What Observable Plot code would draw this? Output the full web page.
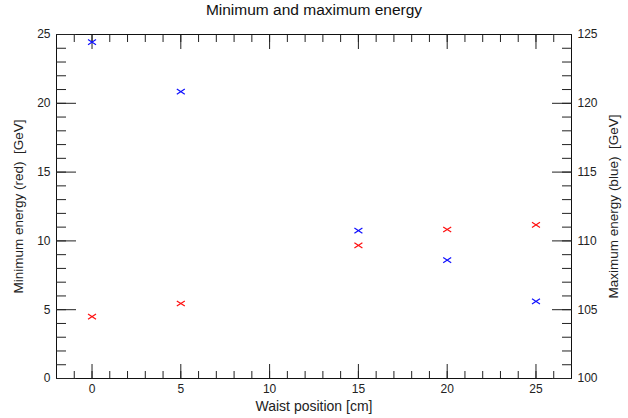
<!DOCTYPE html>
<html>
<head>
<meta charset="utf-8">
<script src="https://cdn.jsdelivr.net/npm/d3@7"></script>
<script src="https://cdn.jsdelivr.net/npm/@observablehq/plot@0.6"></script>
<style>
  body { margin: 0; background: #fff; font-family: "Liberation Sans", Arial, sans-serif; }
  #title { width: 628px; height: 22px; line-height: 20px; text-align: center; font-size: 15.5px; color: #111; }
  #chart g[aria-label="x-axis label"] text { font-size: 14px; }
  #chart g[aria-label="y-axis label"] text { font-size: 13.5px; }
</style>
</head>
<body>
<div id="title">Minimum and maximum energy</div>
<div id="chart"></div>
<script>
// Waist position scan: minimum (red, left axis) and maximum (blue, right axis) energy
const waist = [0, 5, 15, 20, 25];
const minEnergy = [4.5, 5.45, 9.67, 10.83, 11.17];
const maxEnergy = [124.45, 120.85, 110.75, 108.6, 105.6];

// Axis ranges and ticks
const xDomain = [-2, 27];
const leftDomain = [0, 25];
const rightBase = 100; // right axis spans 100–125 over the same height
const xMajor = [0, 5, 10, 15, 20, 25];
const xMinor = d3.range(-1, 27, 1);
const yMajor = [0, 5, 10, 15, 20, 25];
const yMinor = d3.range(1, 25, 1);

const points = waist.map((w, i) => ({w, min: minEnergy[i], max: maxEnergy[i]}));

// flattened "x" marker
const flatCross = {
  draw(ctx) {
    const w = 4, h = 2.6;
    ctx.moveTo(-w, -h); ctx.lineTo(w, h);
    ctx.moveTo(-w, h); ctx.lineTo(w, -h);
  }
};

const blank = () => "";

const chart = Plot.plot({
  width: 628,
  height: 396,
  marginLeft: 56,
  marginRight: 57,
  marginTop: 12,
  marginBottom: 40,
  style: {fontFamily: "Liberation Sans, Arial, sans-serif", fontSize: "12px", color: "#222", background: "#fff"},
  x: {domain: xDomain},
  y: {domain: leftDomain},
  marks: [
    Plot.frame({stroke: "#111"}),
    // bottom
    Plot.axisX(xMinor, {anchor: "bottom", tickSize: -7, tickFormat: blank, label: null}),
    Plot.axisX(xMajor, {anchor: "bottom", tickSize: -14, tickPadding: 20, label: "Waist position [cm]", labelAnchor: "center", labelArrow: "none", labelOffset: 32}),
    // top
    Plot.axisX(xMinor, {anchor: "top", tickSize: -7, tickFormat: blank, label: null}),
    Plot.axisX(xMajor, {anchor: "top", tickSize: -14, tickFormat: blank, label: null}),
    // left
    Plot.axisY(yMinor, {anchor: "left", tickSize: -10, tickFormat: blank, label: null}),
    Plot.axisY(yMajor, {anchor: "left", tickSize: -20, tickPadding: 26, label: "Minimum energy (red)  [GeV]", labelAnchor: "center", labelArrow: "none", labelOffset: 43}),
    // right (offset by 100)
    Plot.axisY(yMinor, {anchor: "right", tickSize: -10, tickFormat: blank, label: null}),
    Plot.axisY(yMajor, {anchor: "right", tickSize: -20, tickPadding: 26, tickFormat: d => d + rightBase, label: "Maximum energy (blue)  [GeV]", labelAnchor: "center", labelArrow: "none", labelOffset: 46}),
    Plot.dot(points, {x: "w", y: "min", symbol: flatCross, fill: "none", stroke: "#ff1010", strokeWidth: 1.2}),
    Plot.dot(points, {x: "w", y: d => d.max - rightBase, symbol: flatCross, fill: "none", stroke: "#1010ff", strokeWidth: 1.2})
  ]
});
document.getElementById("chart").appendChild(chart);
</script>
</body>
</html>
